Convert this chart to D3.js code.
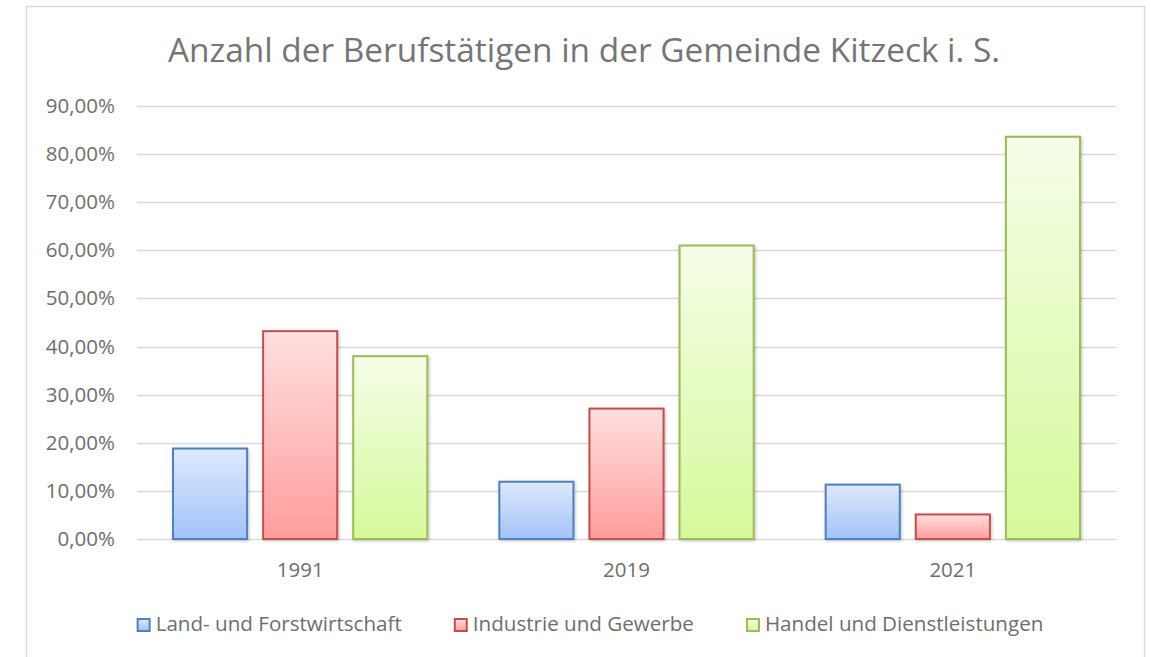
<!DOCTYPE html>
<html>
<head>
<meta charset="utf-8">
<script src="https://cdn.jsdelivr.net/npm/d3@7"></script>
<style>
  body { margin: 0; background: #fff; }
  text { font-family: "Open Sans", sans-serif; fill: #6e6e6e; }
</style>
</head>
<body>
<div id="chart"></div>
<script>
// Data
const years = ["1991", "2019", "2021"];
const seriesNames = ["Land- und Forstwirtschaft", "Industrie und Gewerbe", "Handel und Dienstleistungen"];
const landForst = [18.8, 11.9, 11.3];
const industrie = [43.2, 27.1, 5.1];
const handel = [38.0, 61.0, 83.6];
const yTicks = [0, 10, 20, 30, 40, 50, 60, 70, 80, 90];

const seriesValues = [landForst, industrie, handel];
const seriesStyle = [
    { top: "#dee9fc", bottom: "#a2c2f8", stroke: "#4f81bd" },
    { top: "#ffdfdf", bottom: "#ff9d9c", stroke: "#c0504d" },
    { top: "#f5fde8", bottom: "#d6f99a", stroke: "#9bbb59" }
];

const width = 1151;
const height = 657;
const plot = { left: 137, right: 1116, top: 106, bottom: 539 };

const svg = d3.select("#chart")
    .append("svg")
    .attr("width", width)
    .attr("height", height);

const defs = svg.append("defs");

// Gradients per series (top light, bottom darker)
seriesStyle.forEach(function (s, i) {
    const g = defs.append("linearGradient")
        .attr("id", "grad" + i)
        .attr("x1", "0%").attr("y1", "0%")
        .attr("x2", "0%").attr("y2", "100%");
    g.append("stop").attr("offset", "0%").attr("stop-color", s.top);
    g.append("stop").attr("offset", "100%").attr("stop-color", s.bottom);
});

// Soft shadow under the bars
defs.append("filter")
    .attr("id", "shadow")
    .attr("x", "-20%").attr("y", "-20%")
    .attr("width", "140%").attr("height", "140%")
    .append("feDropShadow")
    .attr("dx", 1).attr("dy", 1)
    .attr("stdDeviation", 1.5)
    .attr("flood-color", "#000")
    .attr("flood-opacity", 0.25);

// Chart border
svg.append("rect")
    .attr("x", 26.5)
    .attr("y", 6.5)
    .attr("width", 1118)
    .attr("height", 700)
    .attr("fill", "none")
    .attr("stroke", "#d9d9d9")
    .attr("stroke-width", 1.5);

// Title
svg.append("text")
    .attr("x", 584)
    .attr("y", 62)
    .attr("text-anchor", "middle")
    .style("font-size", "33.4px")
    .style("fill", "#757575")
    .text("Anzahl der Berufstätigen in der Gemeinde Kitzeck i. S.");

// Scales
const y = d3.scaleLinear()
    .domain([0, 90])
    .range([plot.bottom, plot.top]);

const x0 = d3.scaleBand()
    .domain(years)
    .range([plot.left, plot.right]);

const x1 = d3.scaleBand()
    .domain(d3.range(seriesNames.length))
    .range([36, x0.bandwidth() - 36])
    .paddingInner(16 / 90);

// Gridlines
svg.append("g")
    .selectAll("line")
    .data(yTicks)
    .enter()
    .append("line")
    .attr("x1", plot.left)
    .attr("x2", plot.right)
    .attr("y1", function (d) { return Math.round(y(d)) + 0.5; })
    .attr("y2", function (d) { return Math.round(y(d)) + 0.5; })
    .attr("stroke", "#d9d9d9")
    .attr("stroke-width", 1.5);

// Y tick labels
const fmt = function (d) { return d.toFixed(2).replace(".", ",") + "%"; };
svg.append("g")
    .selectAll("text")
    .data(yTicks)
    .enter()
    .append("text")
    .attr("x", 115)
    .attr("y", function (d) { return y(d) + 7; })
    .attr("text-anchor", "end")
    .style("font-size", "20.5px")
    .text(fmt);

// Bars
const groups = svg.append("g")
    .selectAll("g")
    .data(years)
    .enter()
    .append("g")
    .attr("transform", function (d) { return "translate(" + x0(d) + ",0)"; });

groups.selectAll("rect")
    .data(function (d, j) {
        return seriesValues.map(function (vals, i) { return { i: i, value: vals[j] }; });
    })
    .enter()
    .append("rect")
    .attr("x", function (d) { return x1(d.i); })
    .attr("y", function (d) { return y(d.value); })
    .attr("width", x1.bandwidth())
    .attr("height", function (d) { return y(0) - y(d.value); })
    .attr("fill", function (d) { return "url(#grad" + d.i + ")"; })
    .attr("stroke", function (d) { return seriesStyle[d.i].stroke; })
    .attr("stroke-width", 2)
    .attr("filter", "url(#shadow)");

// Category labels
svg.append("g")
    .selectAll("text")
    .data(years)
    .enter()
    .append("text")
    .attr("x", function (d) { return x0(d) + x0.bandwidth() / 2; })
    .attr("y", 577)
    .attr("text-anchor", "middle")
    .style("font-size", "20.5px")
    .text(function (d) { return d; });

// Legend: items laid out one after another, then centred
const legendGap = 52;
const legend = svg.append("g");

const items = legend.selectAll("g")
    .data(seriesNames)
    .enter()
    .append("g");

items.append("rect")
    .attr("x", 1)
    .attr("y", 1)
    .attr("width", 12)
    .attr("height", 12)
    .attr("fill", function (d, i) { return "url(#grad" + i + ")"; })
    .attr("stroke", function (d, i) { return seriesStyle[i].stroke; })
    .attr("stroke-width", 2);

items.append("text")
    .attr("x", 19)
    .attr("y", 13)
    .style("font-size", "20.6px")
    .text(function (d) { return d; });

let offset = 0;
items.each(function () {
    const w = 19 + d3.select(this).select("text").node().getComputedTextLength();
    d3.select(this).attr("transform", "translate(" + offset + ",0)");
    offset += w + legendGap;
});
const legendWidth = offset - legendGap;
legend.attr("transform", "translate(" + (590 - legendWidth / 2) + ",618)");
</script>
</body>
</html>
